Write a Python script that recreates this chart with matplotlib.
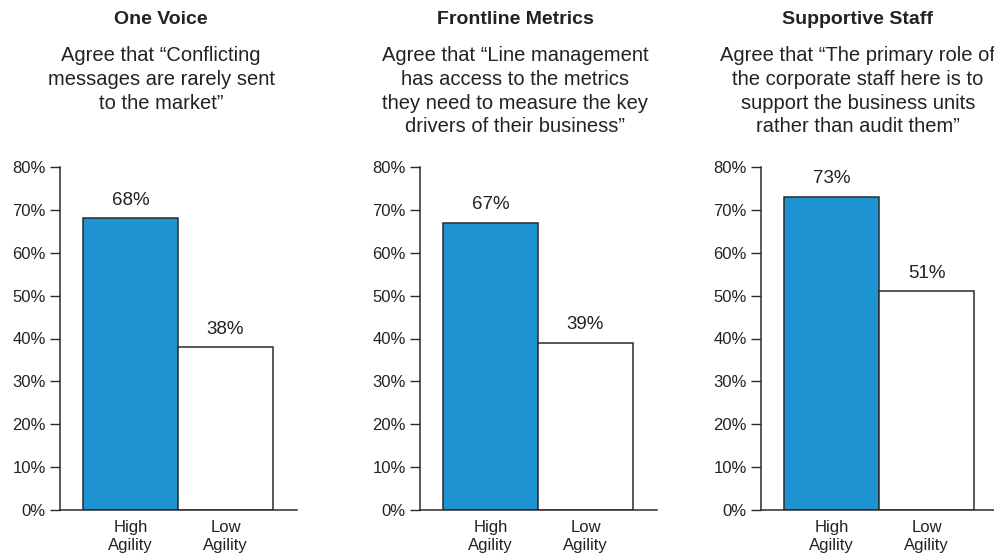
import matplotlib
matplotlib.use("Agg")
import matplotlib.pyplot as plt

plt.rcParams['font.family'] = ['Liberation Sans', 'DejaVu Sans']

titles = ["One Voice", "Frontline Metrics", "Supportive Staff"]
subtitles = [
    "Agree that \u201cConflicting\nmessages are rarely sent\nto the market\u201d",
    "Agree that \u201cLine management\nhas access to the metrics\nthey need to measure the key\ndrivers of their business\u201d",
    "Agree that \u201cThe primary role of\nthe corporate staff here is to\nsupport the business units\nrather than audit them\u201d",
]
categories = ["High\nAgility", "Low\nAgility"]
high_agility = [68, 67, 73]
low_agility = [38, 39, 51]
yticks = [0, 10, 20, 30, 40, 50, 60, 70, 80]

W, H = 994, 558
fig = plt.figure(figsize=(W / 100, H / 100), dpi=100)

BLUE = '#1e93d2'
DARK = '#2b2b2b'
spine_px = [60, 420, 761]
title_cx = [161, 515, 858]

for i in range(3):
    ax = fig.add_axes([spine_px[i] / W, 48 / H, 237 / W, 343 / H])
    vals = [high_agility[i], low_agility[i]]
    ax.bar([0, 1], vals, width=1.0, color=[BLUE, 'white'], edgecolor=DARK, linewidth=1.1)
    for x, v in zip([0, 1], vals):
        ax.annotate(f"{v}%", (x, v), xytext=(0, 13), textcoords='offset points',
                    ha='center', va='center', fontsize=13.5, color='#222222')

    ax.set_xlim(-0.742, 1.753)
    ax.set_ylim(0, 80)
    ax.set_yticks(yticks)
    ax.set_yticklabels([f"{t}%" for t in yticks])
    ax.set_xticks([0, 1])
    ax.set_xticklabels(categories, fontsize=12, color='#222222', linespacing=1.3)
    ax.tick_params(axis='y', length=7.2, width=1.0, color=DARK, labelsize=12, labelcolor='#222222', pad=3)
    ax.tick_params(axis='x', length=0, pad=7)
    for s in ['top', 'right']:
        ax.spines[s].set_visible(False)
    for s in ['left', 'bottom']:
        ax.spines[s].set_color(DARK)
        ax.spines[s].set_linewidth(1.1)
    ax.patch.set_alpha(0)

    fig.text(title_cx[i] / W, 1 - 19 / H, titles[i], ha='center', va='center',
             fontsize=14, fontweight='bold', color='#222222')
    fig.text(title_cx[i] / W, 1 - 46 / H, subtitles[i], ha='center', va='top',
             fontsize=14.5, color='#222222', linespacing=1.32)

fig.savefig("out.png", dpi=100, facecolor='white')
